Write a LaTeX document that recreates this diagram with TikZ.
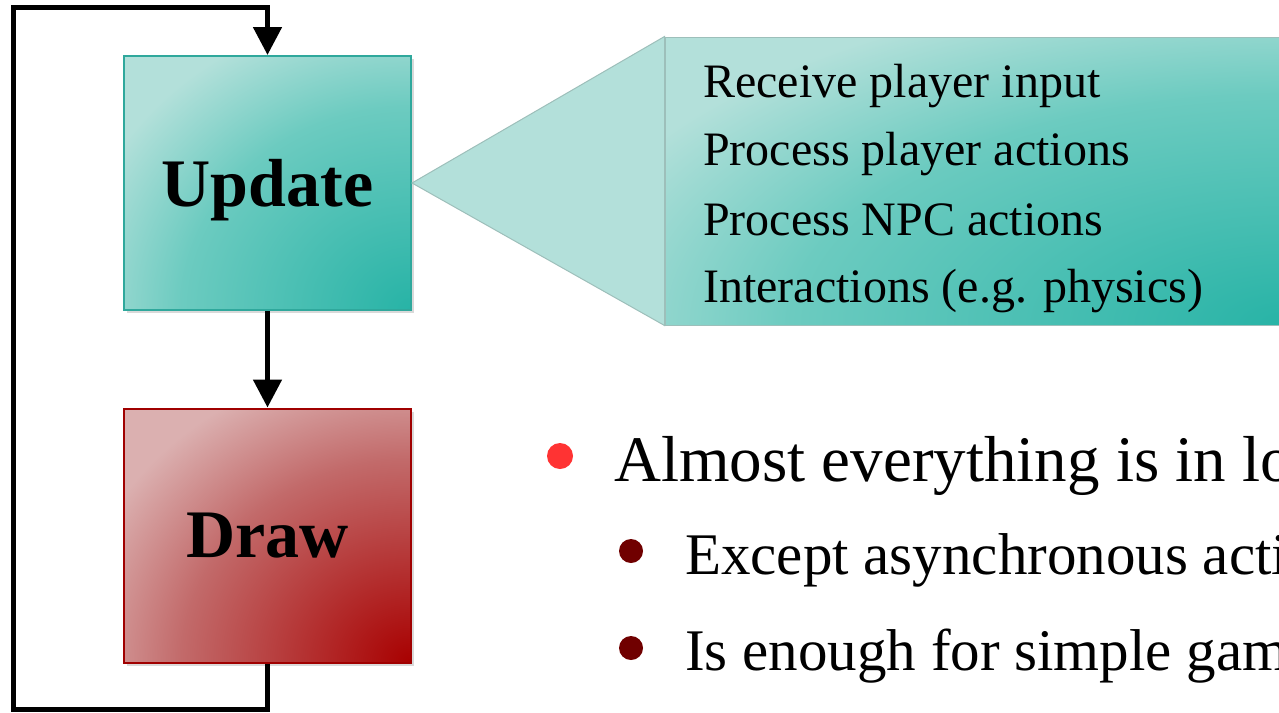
\documentclass[tikz,border=0pt]{standalone}
\usepackage{fontspec}
\setmainfont{Liberation Serif}
\usetikzlibrary{
arrows.meta,
calc,
positioning,
shadows
}
\definecolor{teallight}{HTML}{B3E0DA}
\definecolor{tealmid}{HTML}{6CCBC0}
\definecolor{tealdark}{HTML}{27B3A6}
\definecolor{tealline}{HTML}{2FA89C}
\definecolor{redlight}{HTML}{DBB0B0}
\definecolor{redmid}{HTML}{C26A6A}
\definecolor{reddark}{HTML}{A80000}
\definecolor{redline}{HTML}{A00000}
\definecolor{calloutline}{HTML}{9DBFBA}
\definecolor{dotred}{HTML}{FF3333}
\definecolor{dotdark}{HTML}{700000}
\pgfdeclareradialshading{tealcorner}{\pgfpoint{0bp}{0bp}}{color(0bp)=(tealdark); color(20bp)=(tealmid); color(30bp)=(teallight); color(50bp)=(teallight)}
\pgfdeclareradialshading{redcorner}{\pgfpoint{0bp}{0bp}}{color(0bp)=(reddark); color(20bp)=(redmid); color(30bp)=(redlight); color(50bp)=(redlight)}
\tikzset{>=latex}

\begin{document}
\begin{tikzpicture}[x=1pt,y=-1pt,
	cornershade/.style={path picture={\shade[shading=#1] (path picture bounding box.north west) rectangle ($(path picture bounding box.south east)!-1!(path picture bounding box.north west)$);}},
	stagebox/.style={draw,line width=2pt,minimum width=287pt,minimum height=254pt,inner sep=0pt,text depth=0pt,
		font=\fontsize{68}{80}\selectfont\bfseries,
		drop shadow={shadow xshift=3pt,shadow yshift=-3pt,opacity=0.3}},
	flow/.style={line width=5pt,-{Triangle[length=28pt,width=28pt]}},
	bullet/.style={circle,fill=#1,inner sep=0pt},
	line/.style={anchor=base west,inner sep=0pt}]
	\def\cs{\fontsize{48}{58}\selectfont}
	\def\bs{\fontsize{65}{78}\selectfont}
	\def\ss{\fontsize{59}{70}\selectfont}
	\useasboundingbox (0,0) rectangle (1279,712);
	\clip (0,0) rectangle (1279,712);
	% loop boxes
	\node[stagebox,draw=tealline,cornershade=tealcorner] at (267.5,183) (update) {Update};
	\node[stagebox,draw=redline,cornershade=redcorner] at (267.5,535.5) (drawing) {Draw};
	\coordinate (loopbl) at (13.5,709);
	\coordinate (looptl) at (13.5,7.5);
	\draw[flow] (update.south) -- (drawing.north);
	\draw[flow] (drawing.south) |- (loopbl) -- (looptl) -| (update.north);
	
	% callout
	\node[draw=calloutline,line width=1pt,minimum width=625pt,minimum height=288pt,cornershade=tealcorner] at (977.5,181) (callout) {};
	\filldraw[draw=calloutline,fill=teallight,line width=1pt] (update.east) -- (callout.north west) -- (callout.south west) -- cycle;
	\node[line,font=\cs] at (703,97) (receive) {Receive player input};
	\node[line,font=\cs] at (703,165) (procplayer) {Process player actions};
	\node[line,font=\cs] at (703,235) (procnpc) {Process NPC actions};
	\node[line,font=\cs] at (703,302) (interact) {Interactions (e.g. physics)};
	
	% bullets
	\node[bullet=dotred,minimum size=26pt] at (560,456) (dotloop) {};
	\node[line,font=\bs] at (614,481) (loop) {Almost everything is in loop};
	\node[bullet=dotdark,minimum size=24pt] at (631,551) (dotasync) {};
	\node[line,font=\ss] at (685,574) (async) {Except asynchronous actions};
	\node[bullet=dotdark,minimum size=24pt] at (631,648) (dotsimple) {};
	\node[line,font=\ss] at (685,670) (simple) {Is enough for simple games};
\end{tikzpicture}
\end{document}
